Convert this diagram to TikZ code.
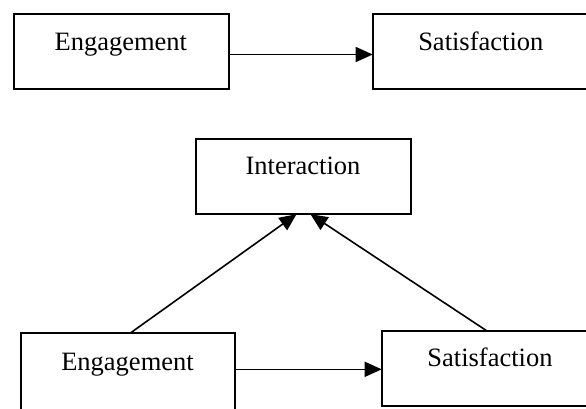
\documentclass[tikz,border=0pt]{standalone}
\usepackage{fontspec}
\setmainfont{Liberation Serif}
\usetikzlibrary{arrows.meta}
\begin{document}
\begin{tikzpicture}[x=1pt,y=-1pt,
  box/.style={draw, line width=2pt, minimum width=#1, minimum height=75pt, inner sep=0pt, outer sep=0pt},
  lbl/.style={anchor=base, font=\fontsize{26.5}{30}\selectfont, inner sep=0pt},
  arr/.style={line width=1.6pt, -{Triangle[length=17pt,width=15pt]}}]
\useasboundingbox (0,0) rectangle (586,408);
\clip (0,0) rectangle (586,408);
% top row
\node[box=215pt] (e1) at (121.1,51.5) {};
\node[box=216pt] (s1) at (480.7,51.5) {};
\node[lbl] (e1t) at (120.8,50) {Engagement};
\node[lbl] (s1t) at (480.8,50) {Satisfaction};
\draw[arr] ([yshift=-3pt]e1.east) -- ([yshift=-3pt]s1.west);
% bottom part
\node[box=215pt] (i) at (303.5,176.7) {};
\node[lbl] (it) at (303,174.3) {Interaction};
\node[box=214.6pt, minimum height=80pt] (e2) at (128,373.3) {};
\node[box=216pt] (s2) at (489.7,368.3) {};
\node[lbl] (e2t) at (127.5,370.7) {Engagement};
\node[lbl] (s2t) at (490,366) {Satisfaction};
\coordinate (a2) at ([yshift=4pt]e2.east);
\draw[arr] (a2) -- (a2 -| s2.west);
\draw[arr] ([xshift=2pt]e2.north) -- ([xshift=-7pt]i.south);
\draw[arr] ([xshift=-3pt]s2.north) -- ([xshift=7pt]i.south);
\end{tikzpicture}
\end{document}
